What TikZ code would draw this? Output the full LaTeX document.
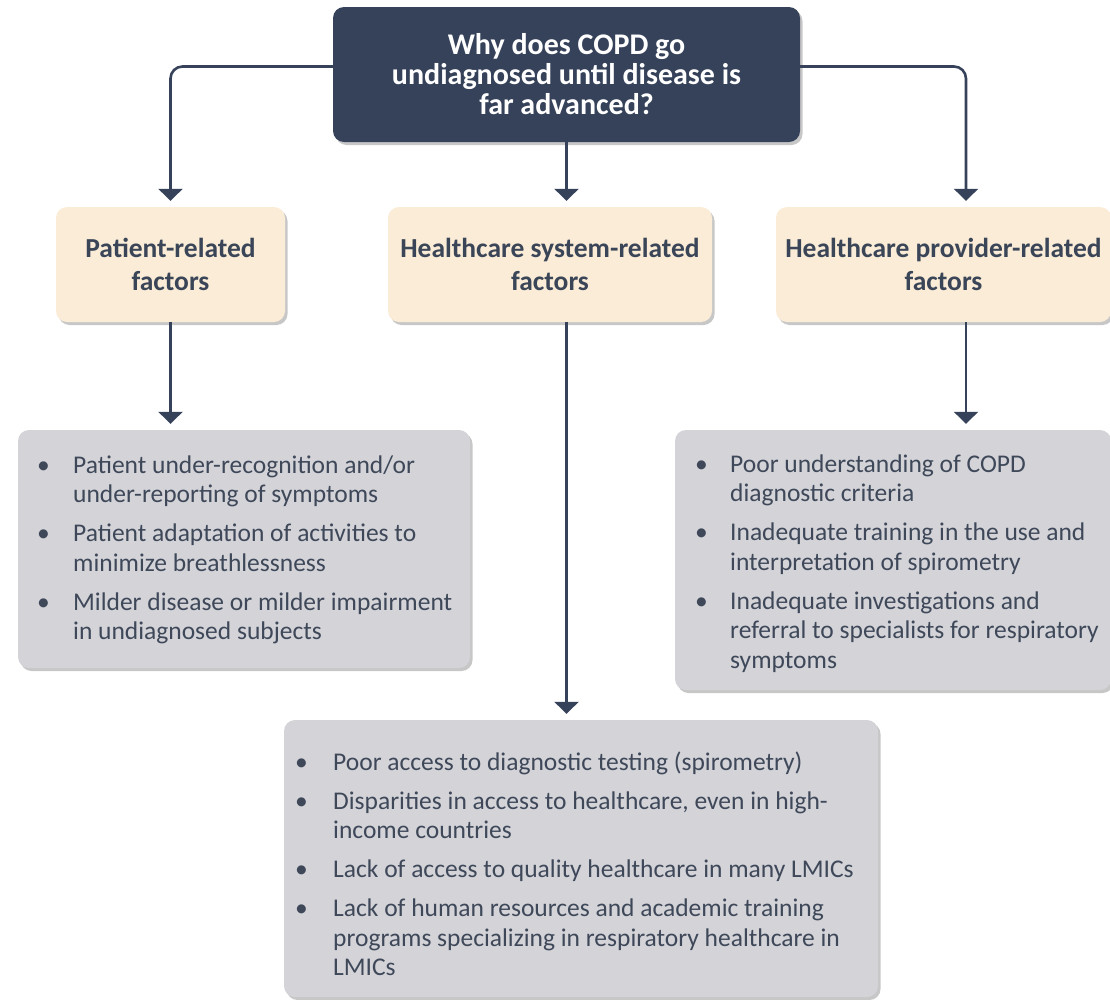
\documentclass[tikz,border=0pt]{standalone}
\usepackage{fontspec}
\setmainfont{Carlito}
\usetikzlibrary{arrows.meta,shadows,calc}

\definecolor{navy}{HTML}{36425A}
\definecolor{cream}{HTML}{FAECD6}
\definecolor{listgray}{HTML}{D3D3D8}
\definecolor{ink}{HTML}{3A4558}
\definecolor{listink}{HTML}{3E4859}

% bullet list set as a two-column table: bullet, then the wrapped lines
\newcommand{\bulletrows}[2]{%
  \fontsize{25.5}{29.5}\selectfont
  \begin{tabular}[t]{@{}p{#1}@{}l@{}}#2\end{tabular}}

\begin{document}
\begin{tikzpicture}[x=1pt,y=-1pt,
  boxshadow/.style={drop shadow={shadow xshift=2.5pt,shadow yshift=-3pt,opacity=0.22,fill=black}},
  titlebox/.style={rounded corners=11pt,fill=navy,text=white,align=center,
    font=\fontsize{30}{30}\selectfont\bfseries,boxshadow},
  factorbox/.style={rounded corners=11pt,fill=cream,text=ink,align=center,
    font=\fontsize{27.5}{33}\selectfont\bfseries,boxshadow},
  listbox/.style={rounded corners=11pt,fill=listgray,boxshadow},
  listtext/.style={text=listink,inner sep=0pt,anchor=base west},
  conn/.style={draw=navy,line width=2.6pt,rounded corners=12pt,
    -{Triangle[width=24pt,length=12pt]},shorten >=6pt}]

\useasboundingbox (0,0) rectangle (1110,999);

% question
\node[titlebox,minimum width=467pt,minimum height=135pt] (q) at (566.5,74.5)
  {Why does COPD go\\undiagnosed until disease is\\far advanced?};

% three groups of factors
\node[factorbox,minimum width=229pt,minimum height=115pt] (pf) at (170.5,264.5)
  {Patient-related\\factors};
\node[factorbox,minimum width=324pt,minimum height=115pt] (hf) at (550,264.5)
  {Healthcare system-related\\factors};
\node[factorbox,minimum width=335pt,minimum height=115pt] (vf) at (943.5,264.5)
  {Healthcare provider-related\\factors};

% lists of reasons
\node[listbox,minimum width=452pt,minimum height=238pt] (pl) at (244,549) {};
\node[listbox,minimum width=436pt,minimum height=260pt] (vl) at (893,560) {};
\node[listbox,minimum width=594pt,minimum height=277pt] (hl) at (581,858.5) {};

\node[listtext] (plt) at (37,473) {\bulletrows{36pt}{%
  \textbullet & Patient under-recognition and/or\\
              & under-reporting of symptoms\\[9.5pt]
  \textbullet & Patient adaptation of activities to\\
              & minimize breathlessness\\[9.5pt]
  \textbullet & Milder disease or milder impairment\\
              & in undiagnosed subjects}};

\node[listtext] (vlt) at (695,472) {\bulletrows{35pt}{%
  \textbullet & Poor understanding of COPD\\
              & diagnostic criteria\\[9.5pt]
  \textbullet & Inadequate training in the use and\\
              & interpretation of spirometry\\[9.5pt]
  \textbullet & Inadequate investigations and\\
              & referral to specialists for respiratory\\
              & symptoms}};

\node[listtext] (hlt) at (295,770) {\bulletrows{38pt}{%
  \textbullet & Poor access to diagnostic testing (spirometry)\\[9.5pt]
  \textbullet & Disparities in access to healthcare, even in high-\\
              & income countries\\[9.5pt]
  \textbullet & Lack of access to quality healthcare in many LMICs\\[9.5pt]
  \textbullet & Lack of human resources and academic training\\
              & programs specializing in respiratory healthcare in\\
              & LMICs}};

% connectors
\coordinate (rx) at (966,0);
\draw[conn] ([yshift=8pt]q.west) -| (pf.north);
\draw[conn] (q.south) -- (q.south |- hf.north);
\draw[conn] ([yshift=8pt]q.east) -| (rx |- vf.north);
\draw[conn] (pf.south) -- (pf.south |- pl.north);
\draw[conn] (q.south |- hf.south) -- (q.south |- hl.north);
\draw[conn] (rx |- vf.south) -- (rx |- vl.north);
\end{tikzpicture}
\end{document}
